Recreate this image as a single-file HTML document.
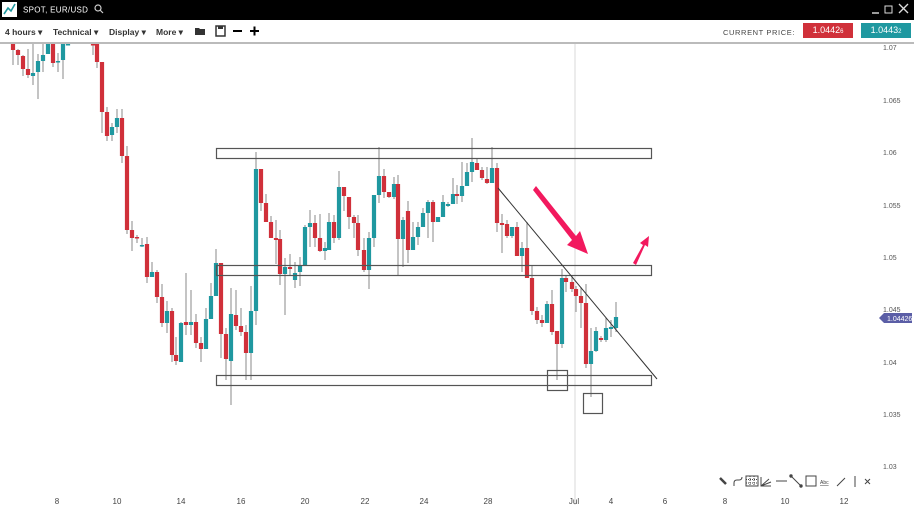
<!DOCTYPE html>
<html><head><meta charset="utf-8"><style>
html,body{margin:0;padding:0;width:914px;height:512px;overflow:hidden;background:#fff;font-family:"Liberation Sans",sans-serif}
#top{position:absolute;left:0;top:0;width:914px;height:20px;background:#000}
#tb{position:absolute;left:0;top:20px;width:914px;height:22px;background:#fff;border-bottom:2px solid #bbb}
.t{position:absolute;font-size:8.5px;color:#333;font-weight:bold}
</style></head><body>
<div id="top">
<svg width="914" height="20" style="position:absolute;left:0;top:0">
<rect x="2" y="2" width="15" height="15" fill="#fff"/>
<polyline points="4,14 8,8 11,11 15,4" fill="none" stroke="#1f98a0" stroke-width="1.6"/>
<text x="23" y="12.5" fill="#fff" font-size="8" font-family="Liberation Sans" letter-spacing="0.3">SPOT, EUR/USD</text>
<circle cx="98" cy="8" r="3" fill="none" stroke="#ccc" stroke-width="1.2"/><line x1="100" y1="10" x2="103" y2="13" stroke="#ccc" stroke-width="1.2"/>
<line x1="872" y1="13" x2="879" y2="13" stroke="#ddd" stroke-width="1.4"/>
<rect x="885" y="6" width="7" height="7" fill="none" stroke="#ddd"/>
<line x1="899" y1="4" x2="908" y2="13" stroke="#ddd" stroke-width="1.3"/><line x1="908" y1="4" x2="899" y2="13" stroke="#ddd" stroke-width="1.3"/>
</svg></div>
<div id="tb">
<div class="t" style="left:5px;top:7px">4 hours ▾</div>
<div class="t" style="left:53px;top:7px">Technical ▾</div>
<div class="t" style="left:109px;top:7px">Display ▾</div>
<div class="t" style="left:156px;top:7px">More ▾</div>
<svg width="80" height="22" style="position:absolute;left:192px;top:0">
<path d="M3,8 h4 l1,1 h5 v6 h-10z" fill="#333"/>
<rect x="24" y="6" width="9" height="10" fill="none" stroke="#333" stroke-width="1.5"/><rect x="26" y="6" width="5" height="3" fill="#333"/>
<line x1="41" y1="11" x2="50" y2="11" stroke="#000" stroke-width="2"/>
<line x1="58" y1="11" x2="67" y2="11" stroke="#000" stroke-width="2"/><line x1="62.5" y1="6.5" x2="62.5" y2="15.5" stroke="#000" stroke-width="2"/>
</svg>
<div style="position:absolute;left:723px;top:8px;font-size:7.5px;color:#444;letter-spacing:0.6px">CURRENT PRICE:</div>
<div style="position:absolute;left:803px;top:3px;width:50px;height:15px;background:#d0303a;color:#fff;font-size:9px;text-align:center;line-height:15px">1.0442<span style="font-size:6px">6</span></div>
<div style="position:absolute;left:861px;top:3px;width:50px;height:15px;background:#1f98a0;color:#fff;font-size:9px;text-align:center;line-height:15px">1.0443<span style="font-size:6px">2</span></div>
</div>
<svg id="ch" width="914" height="468" viewBox="0 44 914 468" style="position:absolute;left:0;top:44px" font-family="Liberation Sans">
<line x1="575" y1="44" x2="575" y2="505" stroke="#e6e6e6" stroke-width="1.5"/>
<g id="c"></g>
<g fill="none" stroke="#555" stroke-width="1.2">
<rect x="216.5" y="148.5" width="435" height="10"/>
<rect x="216.5" y="265.5" width="435" height="10"/>
<rect x="216.5" y="375.5" width="435" height="10"/>
<rect x="547.5" y="370.5" width="20" height="20"/>
<rect x="583.5" y="393.5" width="19" height="20"/>
</g>
<line x1="498" y1="188" x2="657" y2="379" stroke="#333" stroke-width="1"/>
<path d="M533,190 L536,186 L576,236 L580,231 L588,254 L567,245 L572,240 Z" fill="#f2195e"/>
<path d="M633,263 L643,245 L640,243 L649,236 L648,247 L645,245 L636,265 Z" fill="#f2195e"/>
<g font-size="7" fill="#555">
<text x="883" y="50">1.07</text><text x="883" y="103">1.065</text><text x="883" y="155">1.06</text>
<text x="883" y="208">1.055</text><text x="883" y="260">1.05</text><text x="883" y="312">1.045</text>
<text x="883" y="365">1.04</text><text x="883" y="417">1.035</text><text x="883" y="469">1.03</text>
</g>
<path d="M879,318 L884,313 H912 V323 H884 Z" fill="#5b5ea6"/>
<text x="887" y="321" font-size="7" fill="#fff">1.04426</text>
<g font-size="8" fill="#444" text-anchor="middle">
<text x="57" y="504">8</text><text x="117" y="504">10</text><text x="181" y="504">14</text><text x="241" y="504">16</text>
<text x="305" y="504">20</text><text x="365" y="504">22</text><text x="424" y="504">24</text><text x="488" y="504">28</text>
<text x="574" y="504">Jul</text><text x="611" y="504">4</text><text x="665" y="504">6</text><text x="725" y="504">8</text>
<text x="785" y="504">10</text><text x="844" y="504">12</text>
</g>
<g stroke="#444" fill="none" stroke-width="1">
<path d="M720,478 L726,484" stroke-width="2.5"/>
<path d="M734,486 v-3 q0,-3 3,-3 h2 q3,0 3,-3"/>
<rect x="746" y="476" width="12" height="10"/><path d="M746,479.5h12M746,483h12M750,476v10M754,476v10" stroke-dasharray="1 1"/>
<path d="M761,477 v9 h10 M761,486 l8,-7 M761,486 l10,-4"/>
<path d="M776,481 h11"/>
<path d="M791,476 L801,486"/><circle cx="791" cy="476" r="1.2" fill="#444"/><circle cx="801" cy="486" r="1.2" fill="#444"/>
<rect x="806" y="476" width="10" height="10"/>
<path d="M837,486 L845,478"/>
<path d="M855,476 v11"/>
<path d="M865,479 l5,5 M870,479 l-5,5"/>
</g>
<text x="820" y="484" font-size="5" fill="#444" text-decoration="underline">Abc</text>
</svg>
<script>
var d=[
[13,40,50,40,65,'r'],[18,50,55,49,65,'r'],[23,56,69,55,76,'r'],[28,69,75,49,78,'r'],[33,73,76,44,85,'t'],[38,61,72,54,99,'t'],[43,55,61,44,72,'t'],[48,44,54,44,54,'t'],[53,44,63,44,67,'r'],[58,61,62,53,72,'t'],[63,44,60,44,79,'t'],[68,44,45,44,45,'t'],
[93,44,44,44,55,'r'],[97,44,62,44,68,'r'],[102,62,112,62,133,'r'],[107,112,136,107,141,'r'],[112,127,135,123,141,'t'],[117,118,127,109,133,'t'],[122,118,156,109,163,'r'],[127,156,230,146,234,'r'],[132,230,238,221,251,'r'],[137,237,238,235,243,'r'],[142,245,246,238,247,'t'],[147,244,277,237,283,'r'],[152,272,277,262,277,'t'],[157,272,297,270,303,'r'],[162,297,323,284,327,'r'],[167,311,323,301,333,'t'],[172,311,355,308,362,'r'],[176,355,361,337,365,'r'],[181,323,362,322,362,'t'],[186,322,325,273,335,'r'],[191,322,325,290,335,'t'],[196,322,343,314,348,'r'],[201,343,349,337,362,'r'],[206,319,349,308,349,'t'],[211,296,319,283,319,'t'],[216,263,296,249,296,'t'],[221,263,334,263,358,'r'],[226,334,359,328,380,'r'],[231,314,361,288,405,'t'],[236,315,326,290,330,'r'],[241,326,332,308,336,'r'],[246,332,353,325,380,'r'],[251,311,353,286,380,'t'],[256,169,311,152,325,'t'],
[261,169,203,169,211,'r'],[266,203,222,194,222,'r'],[271,222,238,216,238,'r'],[276,238,240,220,264,'r'],[280,239,274,230,285,'r'],[285,267,274,258,315,'t'],[290,267,269,254,275,'r'],[295,273,280,262,288,'t'],[300,265,272,257,286,'t'],[305,227,265,225,265,'t'],[310,223,227,210,247,'t'],[315,223,238,215,247,'r'],[320,238,251,214,252,'r'],[325,248,251,242,260,'t'],[329,222,250,213,250,'t'],[334,222,238,215,243,'r'],[339,187,238,171,240,'t'],[344,187,196,187,211,'r'],[349,197,217,197,229,'r'],[354,217,223,215,238,'r'],[358,223,250,215,256,'r'],[364,250,270,238,272,'r'],[369,238,270,232,289,'t'],[374,195,238,195,247,'t'],[379,176,195,147,203,'t'],[384,176,192,169,198,'r'],[389,192,197,192,198,'r'],[394,184,197,177,199,'t'],[398,184,239,175,276,'r'],[403,220,239,217,267,'t'],[408,211,250,201,263,'r'],[413,237,250,222,250,'t'],[418,227,237,222,245,'t'],[423,213,227,208,227,'t'],[428,202,213,200,238,'t'],[433,202,222,200,242,'r'],[438,217,222,217,222,'t'],[443,202,217,195,217,'t'],[448,204,206,202,207,'t'],[453,194,204,178,204,'t'],[457,194,196,185,204,'r'],[462,186,196,162,202,'t'],[467,172,186,163,186,'t'],[472,162,172,138,182,'t'],[477,163,170,158,170,'r'],[482,170,178,167,180,'r'],[487,179,183,167,184,'r'],[492,168,183,147,183,'t'],
[497,168,223,163,232,'r'],[502,223,225,214,253,'r'],[507,224,236,220,238,'r'],[512,227,236,227,238,'t'],[517,227,256,222,256,'r'],[522,248,256,242,272,'t'],[527,248,278,222,278,'r'],[532,278,311,265,315,'r'],[537,311,320,307,324,'r'],[542,320,323,315,327,'r'],[547,304,323,301,323,'t'],[552,304,332,290,335,'r'],[557,331,344,331,380,'r'],[562,278,344,269,348,'t'],[566,278,282,275,292,'r'],[572,282,289,275,292,'r'],[576,289,296,286,312,'r'],[581,296,303,287,328,'r'],[586,303,364,284,368,'r'],[591,351,364,328,397,'t'],[596,331,351,327,352,'t'],[601,338,340,336,342,'r'],[606,328,340,318,342,'t'],[611,327,329,320,337,'t'],[616,317,328,302,332,'t']
];
var s='';
d.forEach(function(c){var col=c[5]=='r'?'#d0303a':'#1f98a0';
s+='<line x1="'+c[0]+'" y1="'+c[3]+'" x2="'+c[0]+'" y2="'+c[4]+'" stroke="#888" stroke-width="1"/>';
var h=Math.max(1.5,c[2]-c[1]);
s+='<rect x="'+(c[0]-2.1)+'" y="'+c[1]+'" width="4.2" height="'+h+'" fill="'+col+'"/>';});
document.getElementById('c').innerHTML=s;
</script>
</body></html>
